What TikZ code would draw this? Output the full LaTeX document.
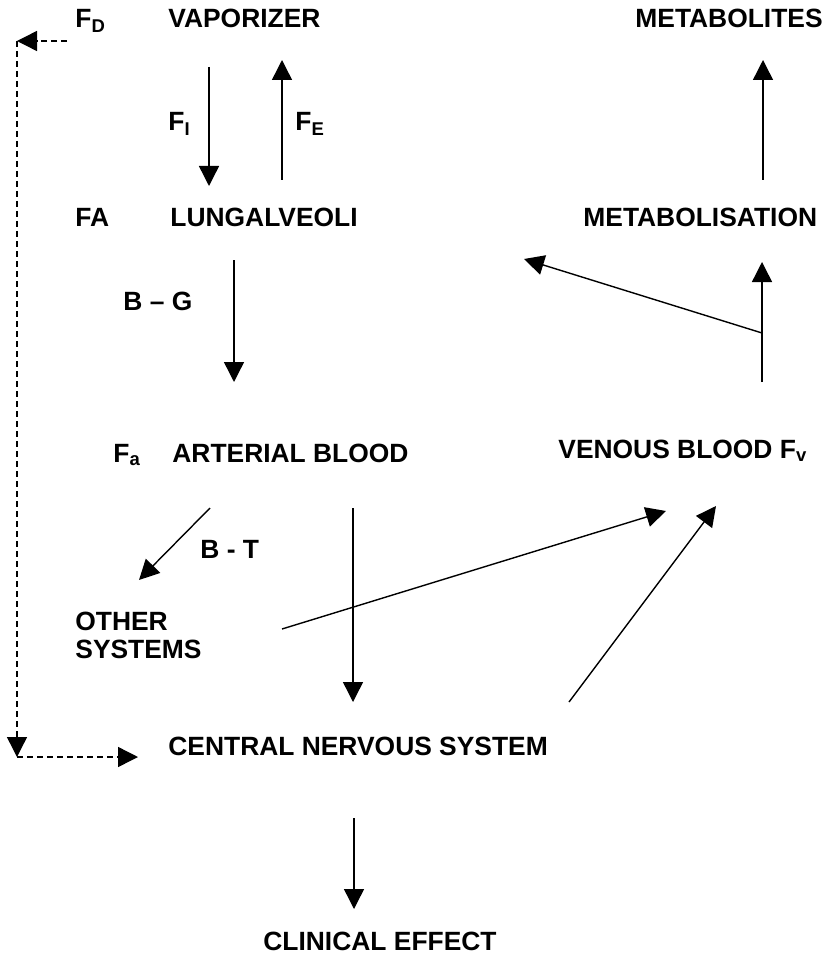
\documentclass[tikz,border=0pt]{standalone}
\usepackage{fontspec}
\setmainfont{Liberation Sans}
\usetikzlibrary{arrows.meta}

\begin{document}
\begin{tikzpicture}[x=0.5pt,y=-0.5pt,
  lbl/.style={font=\bfseries\fontsize{13.2}{14}\selectfont,inner sep=0pt,anchor=base west},
  arr/.style={-{Triangle[length=10pt,width=10pt]},line width=0.7pt},
  dsh/.style={arr,dash pattern=on 3pt off 2pt}]
\useasboundingbox (0,0) rectangle (825,957);
% labels
\node[lbl] (fD) at (75,28) {F\textsubscript{D}};
\node[lbl] (vap) at (168,28) {VAPORIZER};
\node[lbl] (metb) at (635,28) {METABOLITES};
\node[lbl] (fI) at (168,131) {F\textsubscript{I}};
\node[lbl] (fE) at (295,131) {F\textsubscript{E}};
\node[lbl] (fA) at (75,227) {FA};
\node[lbl] (lung) at (170,227) {LUNGALVEOLI};
\node[lbl] (metab) at (583,227) {METABOLISATION};
\node[lbl] (bg) at (123,310) {B -- G};
\node[lbl] (fa) at (113,462) {F\textsubscript{a}};
\node[lbl] (art) at (172,462) {ARTERIAL BLOOD};
\node[lbl] (ven) at (558,458) {VENOUS BLOOD F\textsubscript{v}};
\node[lbl] (bt) at (200,558) {B - T};
\node[lbl,anchor=north west,align=left] (oth) at (75,612) {OTHER\\SYSTEMS};
\node[lbl] (cns) at (168,755) {CENTRAL NERVOUS SYSTEM};
\node[lbl] (clin) at (263,950) {CLINICAL EFFECT};
% arrow ends
\coordinate (iA) at (209,67);   \coordinate (iB) at (209,186);
\coordinate (eA) at (282,180);  \coordinate (eB) at (282,60);
\coordinate (mA) at (763,180);  \coordinate (mB) at (763,60);
\coordinate (gA) at (234,260);  \coordinate (gB) at (234,382);
\coordinate (vA) at (762,382);  \coordinate (vB) at (762,262);
\coordinate (vK) at (762,333);  \coordinate (lB) at (524,259);
\coordinate (tA) at (210,508);  \coordinate (tB) at (139,580);
\coordinate (aA) at (353,508);  \coordinate (aB) at (353,702);
\coordinate (oA) at (282,629);  \coordinate (oB) at (666,511);
\coordinate (cA) at (569,702);  \coordinate (cB) at (716,506);
\coordinate (kA) at (354,818);  \coordinate (kB) at (354,909);
\coordinate (dA) at (67,41);    \coordinate (dB) at (17,41);
\coordinate (dC) at (17,758);   \coordinate (dD) at (138,757);
% flows
\draw[arr] (iA) -- (iB);
\draw[arr] (eA) -- (eB);
\draw[arr] (mA) -- (mB);
\draw[arr] (gA) -- (gB);
\draw[arr] (vA) -- (vB);
\draw[arr] (vK) -- (lB);
\draw[arr] (tA) -- (tB);
\draw[arr] (aA) -- (aB);
\draw[arr] (oA) -- (oB);
\draw[arr] (cA) -- (cB);
\draw[arr] (kA) -- (kB);
% dashed return path
\draw[dsh] (dA) -- (dB);
\draw[dsh] (dB) -- (dC |- dD);
\draw[dsh] (dC |- dD) -- (dD);
\end{tikzpicture}
\end{document}
